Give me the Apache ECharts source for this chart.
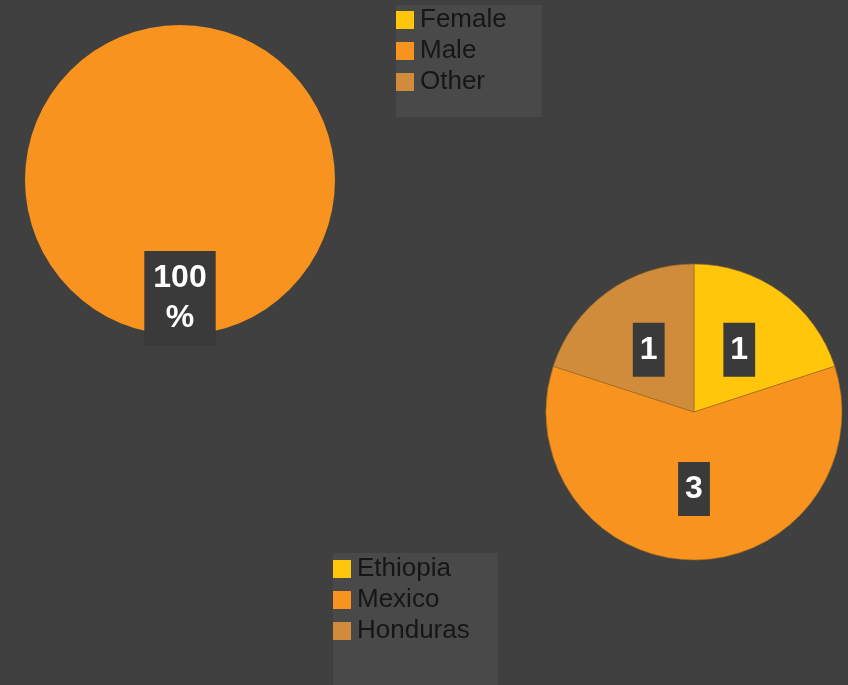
<!DOCTYPE html>
<html><head><meta charset="utf-8">
<script src="https://cdn.jsdelivr.net/npm/echarts@6/dist/echarts.min.js"></script>
<style>html,body{margin:0;padding:0;background:#404040}#c{width:848px;height:685px}</style>
</head><body><div id="c"></div>
<script>
const genderNames = ['Female', 'Male', 'Other'];
const genderValues = [0, 1, 0];
const countryNames = ['Ethiopia', 'Mexico', 'Honduras'];
const countryValues = [1, 3, 1];
const colors = ['#FFC60B', '#F7931E', '#D08B3B'];

const chart = echarts.init(document.getElementById('c'));
const labelBox = {
  color: '#ffffff', fontFamily: 'Liberation Sans, Arial, sans-serif', fontWeight: 'bold',
  fontSize: 32, lineHeight: 40, backgroundColor: '#3a3a3a', padding: [8, 7, 6, 7]
};
const legendCommon = {
  orient: 'vertical', icon: 'rect', itemWidth: 18, itemHeight: 18, itemGap: 5,
  backgroundColor: '#494949', borderRadius: 0, height: 120,
  itemStyle: { borderWidth: 0 },
  textStyle: { color: '#161616', fontSize: 26, lineHeight: 26, fontFamily: 'Liberation Sans, Arial, sans-serif', padding: [0, 0, 0, 1] },
  selectedMode: false
};
chart.setOption({
  backgroundColor: '#404040',
  color: colors,
  legend: [
    Object.assign({}, legendCommon, { left: 396, top: 5, padding: [2, 35, 22, 0], data: genderNames }),
    Object.assign({}, legendCommon, { left: 333, top: 553, padding: [3, 28, 50, 0], data: countryNames })
  ],
  series: [
    {
      type: 'pie', center: [180, 180], radius: 155, startAngle: 90, clockwise: true,
      silent: true, animation: false,
      label: Object.assign({ position: 'inside', formatter: p => p.value ? Math.round(p.percent) + '\n%' : '', offset: [0, 38] }, labelBox, { padding: [8, 9, 7, 9] }),
      labelLine: { show: false },
      itemStyle: { borderWidth: 0 },
      data: genderNames.map((n, i) => ({ name: n, value: genderValues[i], label: { show: genderValues[i] > 0 } }))
    },
    {
      type: 'pie', center: [694, 412], radius: 148, startAngle: 90, clockwise: true,
      silent: true, animation: false,
      label: Object.assign({ position: 'inside', formatter: '{c}' }, labelBox),
      labelLine: { show: false },
      itemStyle: { borderWidth: 0.6, borderColor: '#9a6a20' },
      data: countryNames.map((n, i) => ({ name: n, value: countryValues[i] }))
    }
  ]
});
</script></body></html>
